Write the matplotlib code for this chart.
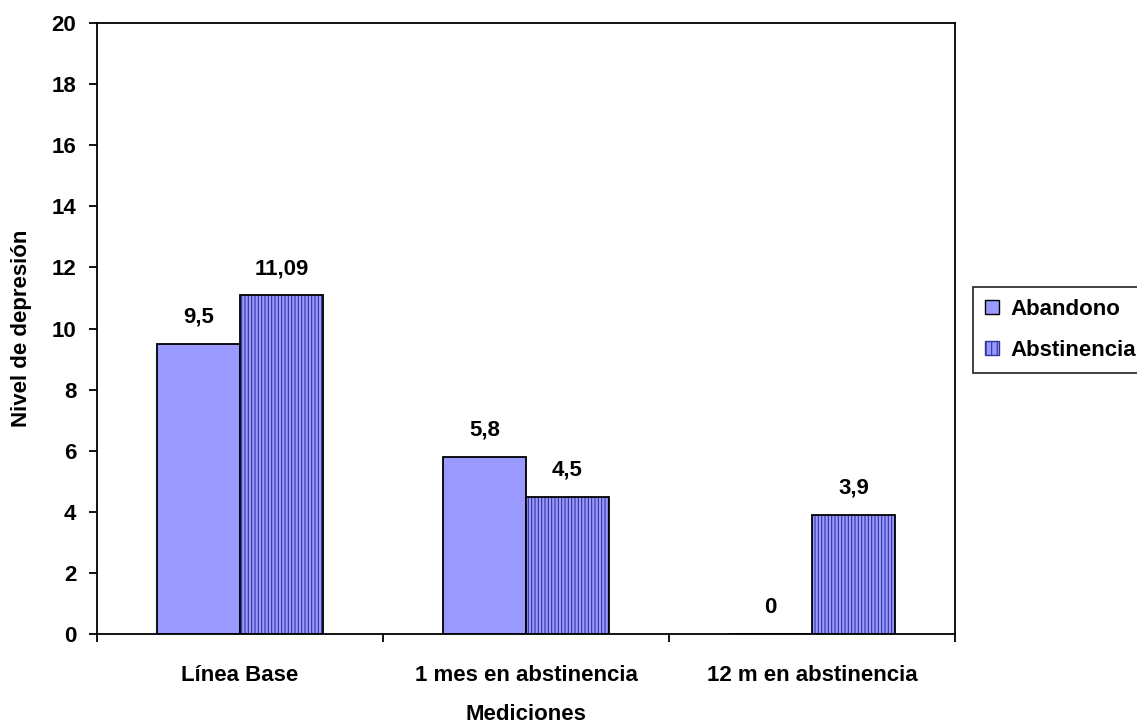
import matplotlib.pyplot as plt
import numpy as np

plt.rcParams["font.family"] = ["Liberation Sans", "DejaVu Sans"]
plt.rcParams["font.weight"] = "bold"
plt.rcParams["hatch.linewidth"] = 0.8

categories = ["Línea Base", "1 mes en abstinencia", "12 m en abstinencia"]
abandono = [9.5, 5.8, 0]
abstinencia = [11.09, 4.5, 3.9]
labels_abandono = ["9,5", "5,8", "0"]
labels_abstinencia = ["11,09", "4,5", "3,9"]

fill = "#9999FF"
hatch_col = "#333399"
fs = 16

fig = plt.figure(figsize=(11.37, 7.25), dpi=100)
ax = fig.add_axes([0.0853, 0.1255, 0.7547, 0.8427])

x = np.arange(len(categories))
w = 0.29

b1 = ax.bar(x - w / 2, abandono, w, color=fill, edgecolor="black", linewidth=1.3)
# hatched fill first, then an unfilled black outline on top
ax.bar(x + w / 2, abstinencia, w, color=fill, edgecolor=hatch_col,
       hatch="|||||", linewidth=0)
b2 = ax.bar(x + w / 2, abstinencia, w, fill=False, edgecolor="black", linewidth=1.3)

for bars, labs in [(b1, labels_abandono), (b2, labels_abstinencia)]:
    for r, t in zip(bars, labs):
        ax.annotate(t, (r.get_x() + r.get_width() / 2, r.get_height()),
                    xytext=(0, 19), textcoords="offset points",
                    ha="center", va="center", fontsize=fs, fontweight="bold")

ax.set_xlim(-0.5, 2.5)
ax.set_ylim(0, 20)
ax.set_yticks(range(0, 21, 2))
ax.tick_params(axis="y", labelsize=fs, length=6, width=1.3, direction="out", pad=9)

ax.set_xticks([-0.5, 0.5, 1.5, 2.5])
ax.set_xticklabels([])
ax.tick_params(axis="x", which="major", length=6, width=1.3, direction="out")
ax.set_xticks(x, minor=True)
ax.set_xticklabels(categories, minor=True)
ax.tick_params(axis="x", which="minor", length=0, labelsize=fs, pad=22)

for s in ax.spines.values():
    s.set_linewidth(1.3)

ax.set_xlabel("Mediciones", fontsize=fs, fontweight="bold", labelpad=13)
ax.set_ylabel("Nivel de depresión", fontsize=fs, fontweight="bold", labelpad=14)

h1 = plt.Rectangle((0, 0), 1, 1, facecolor=fill, edgecolor="black", linewidth=1)
h2 = plt.Rectangle((0, 0), 1, 1, facecolor=fill, edgecolor=hatch_col, hatch="|||", linewidth=1)
leg = fig.legend([h1, h2], ["Abandono", "Abstinencia"], loc="upper left",
                 bbox_to_anchor=(973 / 1137, 1 - 287 / 725), fontsize=fs,
                 frameon=True, fancybox=False, edgecolor="black",
                 handlelength=0.6, handleheight=0.6, handletextpad=0.55,
                 borderaxespad=0, borderpad=0.55, labelspacing=0.87)
leg.get_frame().set_linewidth(1.3)

fig.savefig("out.png", dpi=100)
